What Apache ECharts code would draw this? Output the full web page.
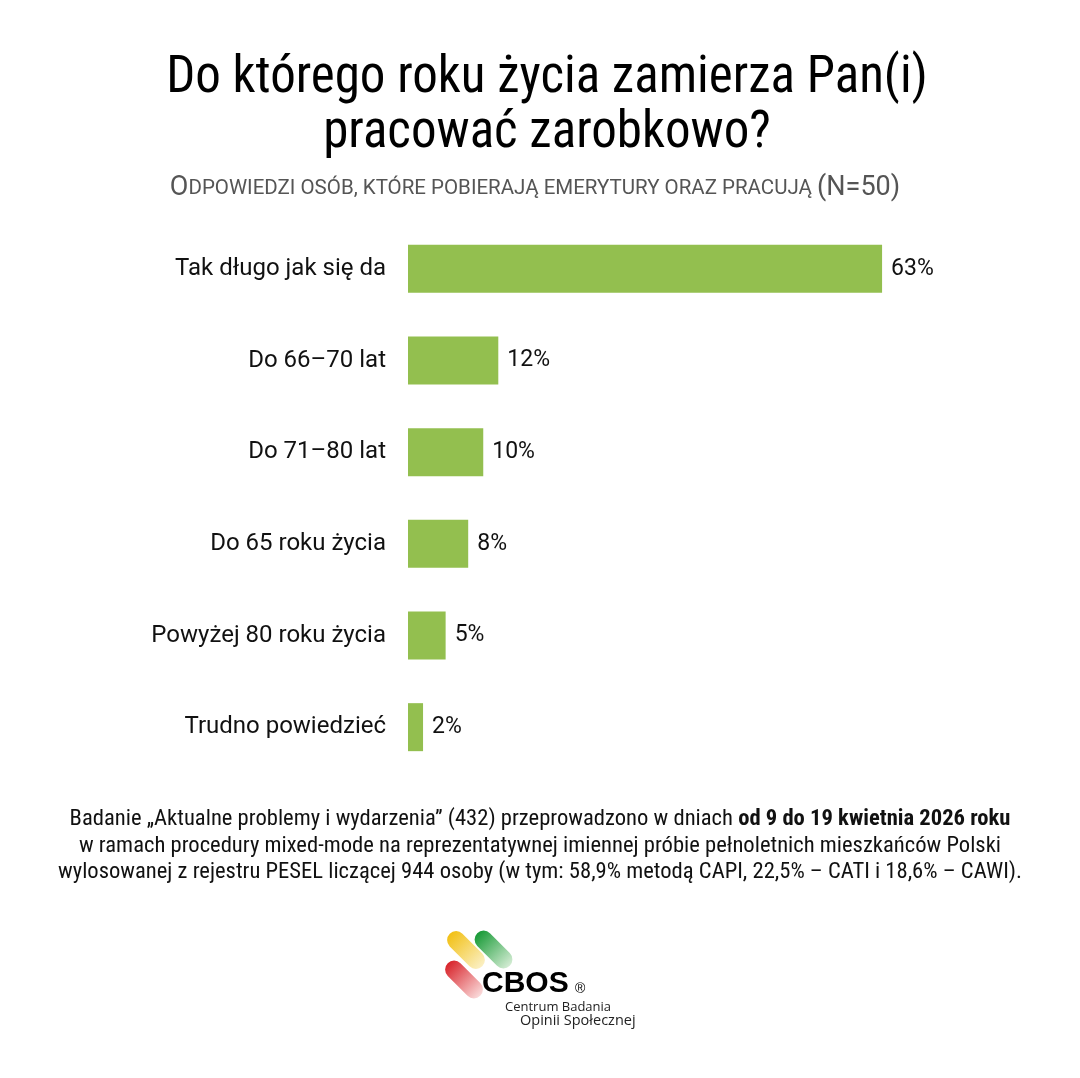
<!DOCTYPE html>
<html>
<head>
<meta charset="utf-8">
<script src="https://cdn.jsdelivr.net/npm/echarts@6/dist/echarts.min.js"></script>
<style>
  html, body { margin: 0; padding: 0; background: #fff; }
  #chart { width: 1080px; height: 1078px; }
</style>
</head>
<body>
<div id="chart"></div>
<script>
// dane z wykresu
var categories = ['Tak długo jak się da', 'Do 66–70 lat', 'Do 71–80 lat', 'Do 65 roku życia', 'Powyżej 80 roku życia', 'Trudno powiedzieć'];
var values = [63, 12, 10, 8, 5, 2];

var titleLines = ['Do którego roku życia zamierza Pan(i)', 'pracować zarobkowo?'];
var footLines = [
  ['Badanie „Aktualne problemy i wydarzenia” (432) przeprowadzono w dniach ', 'od 9 do 19 kwietnia 2026 roku'],
  ['w ramach procedury mixed-mode na reprezentatywnej imiennej próbie pełnoletnich mieszkańców Polski'],
  ['wylosowanej z rejestru PESEL liczącej 944 osoby (w tym: 58,9% metodą CAPI, 22,5% – CATI i 18,6% – CAWI).']
];

var COND = "'Roboto Condensed', 'Liberation Sans Narrow', Roboto, sans-serif";
var barColor = '#93bf4f';

var chart = echarts.init(document.getElementById('chart'), null, { renderer: 'canvas' });

// kapsułki logo CBOS
function capsule(cx, cy, c1, c2) {
  return {
    type: 'rect',
    x: cx, y: cy,
    rotation: -Math.PI / 4,
    shape: { x: -23, y: -9, width: 46, height: 18, r: 9 },
    style: {
      fill: new echarts.graphic.LinearGradient(0, 0, 1, 0, [
        { offset: 0, color: c1 }, { offset: 1, color: c2 }
      ])
    }
  };
}

var graphics = [];
titleLines.forEach(function (t, i) {
  graphics.push({
    type: 'text', x: 547, y: 54 + i * 55,
    style: { text: t, font: '51px ' + COND, fill: '#000', textAlign: 'center' }
  });
});
graphics.push({
  type: 'text', x: 535, y: 175,
  style: {
    text: '{a|O}{b|DPOWIEDZI OSÓB, KTÓRE POBIERAJĄ EMERYTURY ORAZ PRACUJĄ }{a|(N=50)}',
    textAlign: 'center',
    rich: {
      a: { fontFamily: 'Roboto', fontSize: 27, fill: '#555' },
      b: { fontFamily: 'Roboto', fontSize: 20.5, fill: '#555' }
    }
  }
});
footLines.forEach(function (l, i) {
  var txt = '{n|' + l[0] + '}' + (l[1] ? '{b|' + l[1] + '}' : '');
  graphics.push({
    type: 'text', x: 540, y: 808 + i * 26.5,
    style: {
      text: txt,
      textAlign: 'center',
      rich: {
        n: { fontFamily: COND, fontSize: 22.6, fill: '#111' },
        b: { fontFamily: COND, fontSize: 22.6, fontWeight: 'bold', fill: '#111' }
      }
    }
  });
});
graphics.push(capsule(466, 950, '#f2c014', '#fbf0c4'));
graphics.push(capsule(493.5, 949.5, '#189a36', '#d3ecd3'));
graphics.push(capsule(464, 979.5, '#d8232a', '#fadada'));
graphics.push({
  type: 'text', x: 482, y: 999,
  style: { text: 'CBOS', font: 'bold 30px "Liberation Sans", Arial, sans-serif', fill: '#000', textVerticalAlign: 'bottom' }
});
graphics.push({
  type: 'text', x: 575, y: 996,
  style: { text: '®', font: '14px "Liberation Sans", sans-serif', fill: '#000', textVerticalAlign: 'bottom' }
});
graphics.push({
  type: 'text', x: 505, y: 1007,
  style: { text: 'Centrum Badania', font: '13px "Open Sans", sans-serif', fill: '#222', textVerticalAlign: 'middle' }
});
graphics.push({
  type: 'text', x: 520, y: 1021,
  style: { text: 'Opinii Społecznej', font: '14.5px "Open Sans", sans-serif', fill: '#222', textVerticalAlign: 'middle' }
});

var option = {
  backgroundColor: '#fff',
  animation: false,
  grid: { left: 408, top: 223, height: 550, width: 602 },
  xAxis: {
    type: 'value', min: 0, max: 80,
    show: false
  },
  yAxis: {
    type: 'category',
    data: categories,
    inverse: true,
    axisLine: { show: false },
    axisTick: { show: false },
    axisLabel: { margin: 22, fontFamily: 'Roboto', fontSize: 24, color: '#111' }
  },
  series: [{
    type: 'bar',
    data: values,
    barWidth: 48,
    itemStyle: { color: barColor },
    label: {
      show: true, position: 'right', distance: 9,
      formatter: '{c}%',
      fontFamily: 'Roboto', fontSize: 23, color: '#111'
    }
  }],
  graphic: graphics
};
chart.setOption(option);
</script>
</body>
</html>
